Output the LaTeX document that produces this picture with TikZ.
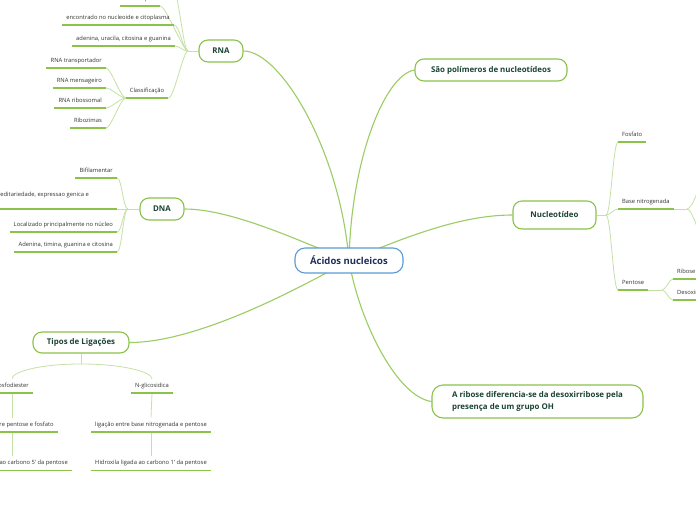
\documentclass[tikz,border=0pt]{standalone}
\usepackage{fontspec}
\setmainfont{Open Sans}
\usetikzlibrary{backgrounds}
\definecolor{gr}{HTML}{8BC34A}
\definecolor{gre}{HTML}{9CCC65}
\definecolor{grl}{HTML}{C5E1A5}
\definecolor{dg}{HTML}{1B4332}
\definecolor{bl}{HTML}{5B9BD5}
\definecolor{nv}{HTML}{1F2D5A}
\definecolor{tx}{HTML}{333333}
\tikzset{
  topic/.style={draw=gr, line width=1.1pt, rounded corners=9pt, fill=white,
    text=dg, font=\fontsize{7.9}{9}\selectfont\bfseries, inner sep=0pt},
  central/.style={draw=bl, line width=1.1pt, rounded corners=10pt, fill=white,
    text=nv, font=\fontsize{9.5}{11}\selectfont\bfseries, inner sep=0pt,
    minimum width=108pt, minimum height=25pt},
  leaf/.style={text=tx, font=\fontsize{5.8}{7}\selectfont, inner xsep=4pt,
    inner ysep=4pt, text height=4.3pt, text depth=1.6pt,
    append after command={(\tikzlastnode.south west) edge[uline] (\tikzlastnode.south east)}},
  uline/.style={draw=gr, line width=1.8pt},
  conn/.style={draw=grl, line width=0.8pt},
  mainedge/.style={draw=gre, line width=1.1pt}
}
\begin{document}
\begin{tikzpicture}[x=1pt,y=-1pt]
\useasboundingbox (0,0) rectangle (696,520);
\begin{scope}[on background layer]
\fill[white] (0,0) rectangle (696,520);
\end{scope}
\clip (0,0) rectangle (696,520);

% main topics
\node[central] (c) at (349,260.5) {Ácidos nucleicos};
\node[topic, minimum width=44pt, minimum height=22pt] (rna) at (221,51) {RNA};
\node[topic, minimum width=152pt, minimum height=22pt] (sao) at (491,70) {São polímeros de nucleotídeos};
\node[topic, minimum width=83pt, minimum height=28pt] (nuc) at (554.5,215) {Nucleotídeo};
\node[topic, minimum width=211pt, minimum height=33pt, align=left, rounded corners=11pt,
  font=\fontsize{7.9}{12}\selectfont\bfseries] (ribo) at (537.5,401.5)
  {A ribose diferencia-se da desoxirribose pela\\presença de um grupo OH};
\node[topic, minimum width=44pt, minimum height=22pt] (dna) at (162,209) {DNA};
\node[topic, minimum width=96pt, minimum height=21pt] (tipos) at (81,342.5) {Tipos de Ligações};

% RNA leaves
\node[leaf, anchor=south] (r0) at (140,6) {Fita simples};
\node[leaf, anchor=south] (r1) at (118,25) {encontrado no nucleoide e citoplasma};
\node[leaf, anchor=south] (r2) at (123.5,46) {adenina, uracila, citosina e guanina};
\node[leaf, anchor=south] (rc) at (147,98) {Classificação};
\node[leaf, anchor=south east] (c1) at (106,68) {RNA transportador};
\node[leaf, anchor=south east] (c2) at (106,88) {RNA mensageiro};
\node[leaf, anchor=south east] (c3) at (106,108) {RNA ribossomal};
\node[leaf, anchor=south east] (c4) at (106,128) {Ribozimas};

% DNA leaves
\node[leaf, anchor=south east] (d1) at (117,178) {Bifilamentar};
\node[text=tx, font=\fontsize{5.8}{7}\selectfont, inner sep=0pt, anchor=base east] (d2) at (89,196)
  {Responsável pela hereditariedade, expressao genica e};
\coordinate (d2a) at (-10,209);
\coordinate (d2b) at (117,209);
\draw[uline] (d2a) -- (d2b);
\node[leaf, anchor=south east] (d3) at (117,232) {Localizado principalmente no núcleo};
\node[leaf, anchor=south east] (d4) at (117,252) {Adenina, timina, guanina e citosina};

% Tipos leaves
\node[leaf, anchor=south] (t1) at (12,393) {Fosfodiester};
\node[leaf, anchor=south] (t2) at (12,432) {ligação entre pentose e fosfato};
\node[leaf, anchor=south] (t3) at (12,470.5) {Hidroxila ligada ao carbono 5' da pentose};
\node[leaf, anchor=south] (t4) at (152,393) {N-glicosidica};
\node[leaf, anchor=south] (t5) at (151,432) {ligação entre base nitrogenada e pentose};
\node[leaf, anchor=south] (t6) at (151,470.5) {Hidroxila ligada ao carbono 1' da pentose};

% Nucleotideo leaves
\node[leaf, anchor=south west] (n1) at (618,142) {Fosfato};
\node[leaf, anchor=south west] (n2) at (618,209) {Base nitrogenada};
\node[leaf, anchor=south west] (n3) at (618,290) {Pentose};
\node[leaf, anchor=south west] (p1) at (673,279) {Ribose};
\node[leaf, anchor=south west] (p2) at (673,300) {Desoxirribose};

% junctions
\coordinate (jr) at (188,51);
\coordinate (roff) at (172,-15);
\coordinate (jd) at (128,209);
\coordinate (jt) at (81,364);
\coordinate (jn) at (606,215);
\coordinate (jp) at (662,290);
\coordinate (jb) at (687,209);
\coordinate (bo1) at (705,160);
\coordinate (bo2) at (705,262);

\begin{scope}[on background layer]
% main edges
\draw[mainedge] (c.center) .. controls +(-9,-110) and +(37,0) .. (rna.east);
\draw[mainedge] (c.center) .. controls +(2,-100) and +(-30,5) .. (sao.west);
\draw[mainedge] (c.center) .. controls +(60,-25) and +(-50,0) .. (nuc.west);
\draw[mainedge] (c.center) .. controls +(10,60) and +(-35,-5) .. (ribo.west);
\draw[mainedge] (c.center) .. controls +(-40,-15) and +(50,0) .. (dna.east);
\draw[mainedge] (c.center) .. controls +(-45,25) and +(70,0) .. (tipos.east);

% RNA connectors
\draw[conn] (rna.west) -- (jr);
\draw[conn] (jr) .. controls +(-5,0) and +(6,0) .. (roff);
\draw[conn] (jr) .. controls +(-5,0) and +(6,0) .. (r0.south east);
\draw[conn] (jr) .. controls +(-5,0) and +(6,0) .. (r1.south east);
\draw[conn] (jr) .. controls +(-5,0) and +(4,0) .. (r2.south east);
\draw[conn] (jr) .. controls +(-5,0) and +(6,0) .. (rc.south east);
\draw[conn] (rc.south west) .. controls +(-5,0) and +(5,0) .. (c1.south east);
\draw[conn] (rc.south west) .. controls +(-5,0) and +(5,0) .. (c2.south east);
\draw[conn] (rc.south west) .. controls +(-5,0) and +(5,0) .. (c3.south east);
\draw[conn] (rc.south west) .. controls +(-5,0) and +(5,0) .. (c4.south east);

% DNA connectors
\draw[conn] (dna.west) -- (jd);
\draw[conn] (jd) .. controls +(-5,0) and +(5,0) .. (d1.south east);
\draw[conn] (jd) -- (d2b);
\draw[conn] (jd) .. controls +(-5,0) and +(5,0) .. (d3.south east);
\draw[conn] (jd) .. controls +(-5,0) and +(5,0) .. (d4.south east);

% Tipos connectors
\draw[conn] (tipos.south) -- (jt);
\draw[conn] (jt) .. controls +(-45,0) and +(0,-6) .. (t1.north);
\draw[conn] (jt) .. controls +(45,0) and +(0,-6) .. (t4.north);
\draw[conn] (t1.south) -- (t2.north);
\draw[conn] (t2.south) -- (t3.north);
\draw[conn] (t4.south) -- (t5.north);
\draw[conn] (t5.south) -- (t6.north);

% Nucleotideo connectors
\draw[conn] (nuc.east) -- (jn);
\draw[conn] (jn) .. controls +(5,0) and +(-5,0) .. (n1.south west);
\draw[conn] (jn) .. controls +(5,0) and +(-5,0) .. (n2.south west);
\draw[conn] (jn) .. controls +(5,0) and +(-5,0) .. (n3.south west);
\draw[conn] (n3.south east) -- (jp);
\draw[conn] (jp) .. controls +(4,0) and +(-4,0) .. (p1.south west);
\draw[conn] (jp) .. controls +(4,0) and +(-4,0) .. (p2.south west);
\draw[conn] (n2.south east) -- (jb);
\draw[conn] (jb) .. controls +(5,0) and +(-3,25) .. (bo1);
\draw[conn] (jb) .. controls +(5,0) and +(-3,-25) .. (bo2);
\end{scope}
\end{tikzpicture}
\end{document}
